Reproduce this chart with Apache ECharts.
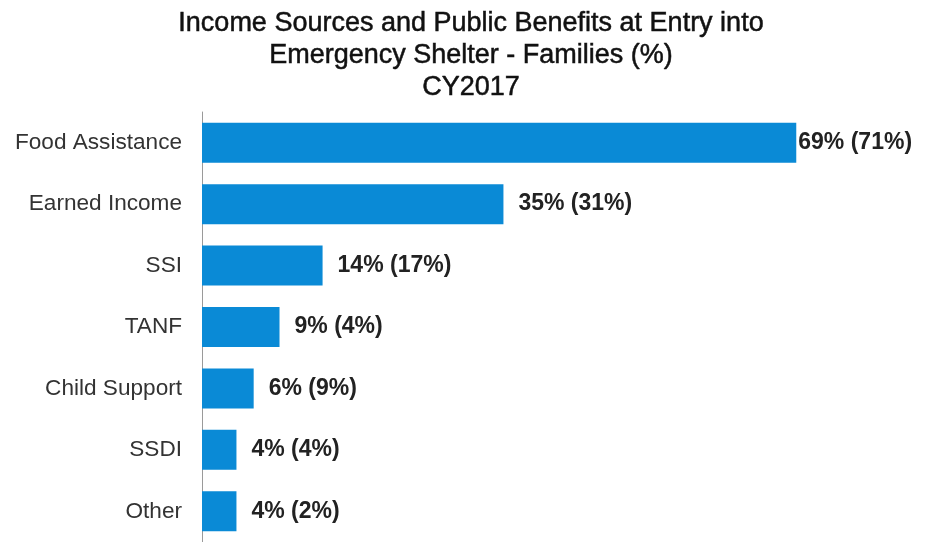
<!DOCTYPE html>
<html>
<head>
<meta charset="utf-8">
<script src="https://cdn.jsdelivr.net/npm/echarts@6/dist/echarts.min.js"></script>
<style>
  html, body { margin: 0; padding: 0; background: #fff; }
  #chart { width: 926px; height: 542px; }
</style>
</head>
<body>
<div id="chart"></div>
<script>
// Share of families reporting each income source / benefit at shelter entry (CY2017),
// with the prior-year share shown in parentheses.
const categories = ['Food Assistance', 'Earned Income', 'SSI', 'TANF', 'Child Support', 'SSDI', 'Other'];
const currentPct = [69, 35, 14, 9, 6, 4, 4];
const priorPct = [71, 31, 17, 4, 9, 4, 2];

const chart = echarts.init(document.getElementById('chart'), null, { renderer: 'canvas' });

// The longest bar's label sits tight against the bar so it stays inside the canvas.
const barData = currentPct.map((v, i) => ({
  value: v,
  label: { distance: i === 0 ? 2 : 15 }
}));

chart.setOption({
  animation: false,
  backgroundColor: '#ffffff',
  title: {
    text: 'Income Sources and Public Benefits at Entry into\nEmergency Shelter - Families (%)\nCY2017',
    left: 466,
    textAlign: 'center',
    top: 3,
    textStyle: {
      fontFamily: 'Liberation Sans, Arial, sans-serif',
      fontSize: 27,
      fontWeight: 'normal',
      color: '#111',
      textBorderColor: '#111',
      textBorderWidth: 0.5,
      lineHeight: 32
    }
  },
  grid: {
    left: 202,
    top: 112,
    width: 689,
    height: 433
  },
  xAxis: {
    type: 'value',
    min: 0,
    max: 80,
    show: false,
    splitLine: { show: false }
  },
  yAxis: {
    type: 'category',
    data: categories,
    inverse: true,
    axisLine: { show: true, lineStyle: { color: '#9a9a9a', width: 1 } },
    axisTick: { show: false },
    axisLabel: {
      margin: 20,
      fontFamily: 'Liberation Sans, Arial, sans-serif',
      fontSize: 22.6,
      color: '#333'
    }
  },
  series: [{
    type: 'bar',
    data: barData,
    barWidth: 40,
    itemStyle: { color: '#0a8ad6' },
    label: {
      show: true,
      position: 'right',
      fontFamily: 'Liberation Sans, Arial, sans-serif',
      fontSize: 23,
      fontWeight: 'bold',
      color: '#222',
      formatter: p => currentPct[p.dataIndex] + '% (' + priorPct[p.dataIndex] + '%)'
    }
  }]
});
</script>
</body>
</html>
